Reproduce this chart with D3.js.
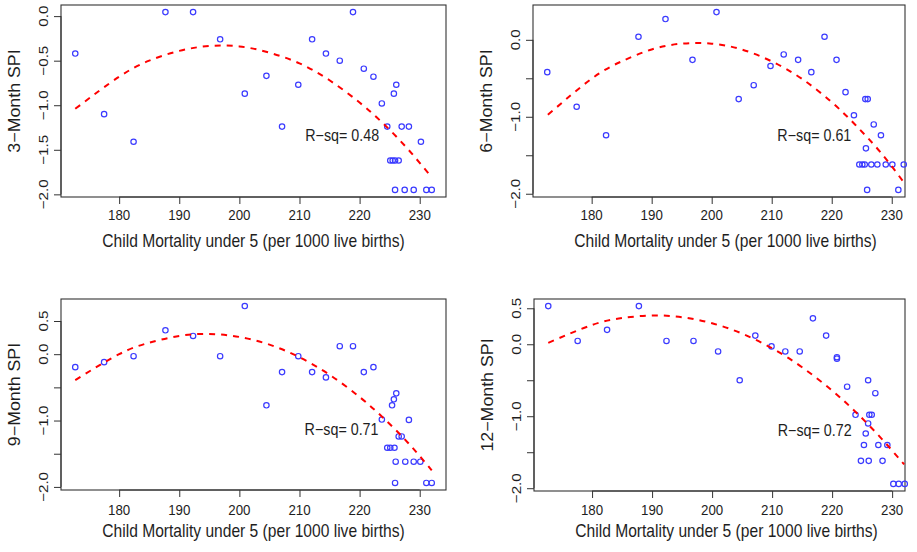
<!DOCTYPE html>
<html>
<head>
<meta charset="utf-8">
<script src="https://cdn.jsdelivr.net/npm/d3@7"></script>
<style>
  html, body { margin: 0; padding: 0; background: #fff; }
  svg { display: block; font-family: "Liberation Sans", Arial, sans-serif; }
</style>
</head>
<body>
<svg id="chart" width="917" height="552"></svg>
<script>
// ---------------- data ----------------
const panelTitles = ["3\u2212Month SPI", "6\u2212Month SPI", "9\u2212Month SPI", "12\u2212Month SPI"];
const rsqLabels = ["R\u2212sq= 0.48", "R\u2212sq= 0.61", "R\u2212sq= 0.71", "R\u2212sq= 0.72"];
const xTickValues = [180, 190, 200, 210, 220, 230];
const xTitle = "Child Mortality under 5 (per 1000 live births)";

const mortality3 = [172.7,177.5,182.4,187.7,192.3,196.8,200.9,204.5,207.1,209.8,212.1,214.4,216.7,218.9,220.7,222.3,223.7,224.6,225.1,225.5,225.9,226.5,225.7,226.1,225.9,227.0,227.5,228.2,229.0,230.2,231.1,232.0];
const spi3 = [-0.42,-1.10,-1.41,0.045,0.045,-0.26,-0.87,-0.67,-1.24,-0.77,-0.26,-0.42,-0.50,0.045,-0.59,-0.68,-0.98,-1.24,-1.62,-1.62,-1.62,-1.62,-0.87,-0.77,-1.95,-1.24,-1.95,-1.24,-1.95,-1.41,-1.95,-1.95];

const mortality6 = [172.6,177.5,182.4,187.8,192.3,196.8,200.8,204.5,207.0,209.8,212.0,214.4,216.6,218.8,220.8,222.3,223.7,224.6,225.1,225.5,225.6,226.0,225.7,225.9,226.6,227.0,227.6,228.2,229.0,230.1,231.1,232.0];
const spi6 = [-0.42,-0.87,-1.24,0.04,0.27,-0.26,0.36,-0.77,-0.59,-0.34,-0.19,-0.26,-0.42,0.04,-0.26,-0.68,-0.98,-1.62,-1.62,-1.62,-0.77,-0.77,-1.41,-1.95,-1.62,-1.10,-1.62,-1.24,-1.62,-1.62,-1.95,-1.62];

const mortality9 = [172.7,177.5,182.4,187.7,192.3,196.8,200.9,204.5,207.1,209.8,212.1,214.4,216.7,218.9,220.7,222.3,223.7,224.6,225.1,225.8,225.4,225.7,226.1,226.5,227.0,228.2,226.0,227.6,229.0,230.1,225.9,231.1,232.0];
const spi9 = [-0.195,-0.12,-0.03,0.36,0.275,-0.03,0.725,-0.77,-0.27,-0.03,-0.27,-0.35,0.12,0.12,-0.27,-0.195,-0.985,-1.41,-1.41,-1.41,-0.77,-0.68,-0.59,-1.24,-1.24,-0.99,-1.62,-1.62,-1.62,-1.62,-1.94,-1.94,-1.94];

const mortality12 = [172.7,177.6,182.5,187.8,192.4,196.9,201.0,204.6,207.2,209.9,212.2,214.6,216.8,219.0,220.8,220.8,222.5,223.9,226.0,227.2,226.2,226.6,226.0,225.6,225.3,227.7,229.2,224.8,226.1,228.4,230.2,231.1,232.1];
const spi12 = [0.53,0.046,0.20,0.53,0.046,0.046,-0.10,-0.50,0.12,-0.03,-0.10,-0.10,0.36,0.12,-0.18,-0.20,-0.59,-0.98,-0.50,-0.68,-0.98,-0.98,-1.10,-1.24,-1.40,-1.40,-1.40,-1.62,-1.62,-1.62,-1.94,-1.94,-1.94];

// quadratic fit curves
const fitX = [172.7,180,185,190,195,200,205,210,215,220,224,228,232];
const fit3 = [-1.04,-0.68,-0.50,-0.39,-0.335,-0.34,-0.41,-0.53,-0.72,-0.97,-1.21,-1.49,-1.81];
const fit6 = [-0.975,-0.505,-0.28,-0.125,-0.05,-0.05,-0.125,-0.28,-0.505,-0.81,-1.11,-1.45,-1.85];
const fit9 = [-0.39,0.0,0.173,0.275,0.305,0.26,0.144,-0.046,-0.31,-0.645,-0.965,-1.33,-1.75];
const fit12 = [0.02,0.268,0.364,0.40,0.376,0.292,0.148,-0.056,-0.32,-0.644,-0.947,-1.29,-1.67];

const yTicks3 = [0, -0.5, -1, -1.5, -2];
const yTickLabels3 = ["0.0", "\u22120.5", "\u22121.0", "\u22121.5", "\u22122.0"];
const yTicks6 = [0, -0.5, -1, -1.5, -2];
const yTickLabels6 = ["0.0", "", "\u22121.0", "", "\u22122.0"];
const yTicks9 = [0.5, 0, -0.5, -1, -1.5, -2];
const yTickLabels9 = ["0.5", "0.0", "", "\u22121.0", "", "\u22122.0"];
const yTicks12 = [0.5, 0, -0.5, -1, -1.5, -2];
const yTickLabels12 = ["0.5", "0.0", "", "\u22121.0", "", "\u22122.0"];

const rsqPosX = [217.1, 217.1, 217.0, 217.1];
const rsqPosY = [-1.35, -1.25, -1.14, -1.20];

// ---------------- layout ----------------
const panels = [
  { xs: mortality3, ys: spi3, fit: fit3, yt: yTicks3, yl: yTickLabels3, x0: 61, x1: 446, clip: 446, y0: 5, y1: 197, tickLabY: 220, titleY: 247 },
  { xs: mortality6, ys: spi6, fit: fit6, yt: yTicks6, yl: yTickLabels6, x0: 533, x1: 918, clip: 905, y0: 5, y1: 197, tickLabY: 220, titleY: 247 },
  { xs: mortality9, ys: spi9, fit: fit9, yt: yTicks9, yl: yTickLabels9, x0: 61, x1: 446, clip: 446, y0: 299, y1: 490, tickLabY: 515, titleY: 537 },
  { xs: mortality12, ys: spi12, fit: fit12, yt: yTicks12, yl: yTickLabels12, x0: 534, x1: 919, clip: 905, y0: 299, y1: 491, tickLabY: 515, titleY: 537 }
];

const svg = d3.select("#chart");
svg.append("rect").attr("width", 917).attr("height", 552).attr("fill", "#fff");

const TICK_FONT = 13.3;
const TITLE_FONT = 15.6;
const RSQ_FONT = 14.3;
const STRETCH = 1.14;          // the reference image is slightly stretched vertically
const axisColor = "#333";
const textColor = "#1e1e1e";

function ext(v) {
  const [a, b] = d3.extent(v);
  const e = (b - a) * 0.04;
  return [a - e, b + e];
}

panels.forEach((p, i) => {
  const g = svg.append("g");
  const x = d3.scaleLinear().domain(ext(p.xs)).range([p.x0, p.x1]);
  const y = d3.scaleLinear().domain(ext(p.ys)).range([p.y1, p.y0]);

  // x axis ticks
  const xAxis = d3.axisBottom(x).tickValues(xTickValues).tickSize(7).tickSizeOuter(0).tickFormat("");
  const gx = g.append("g").attr("transform", `translate(0,${p.y1})`).call(xAxis);
  gx.select(".domain").attr("d", `M${x(xTickValues[0])},0H${x(xTickValues[xTickValues.length - 1])}`).attr("stroke", axisColor);
  gx.selectAll(".tick line").attr("stroke", axisColor);
  g.selectAll(".xtl").data(xTickValues).enter().append("text")
    .attr("transform", d => `translate(${x(d)},${p.tickLabY}) scale(1,${STRETCH})`)
    .attr("text-anchor", "middle").attr("font-size", TICK_FONT).attr("fill", textColor)
    .text(d => d);

  // y axis ticks
  const yAxis = d3.axisLeft(y).tickValues(p.yt).tickSize(7).tickSizeOuter(0).tickFormat("");
  const gy = g.append("g").attr("transform", `translate(${p.x0},0)`).call(yAxis);
  gy.select(".domain").attr("d", `M0,${y(d3.min(p.yt))}V${y(d3.max(p.yt))}`).attr("stroke", axisColor);
  gy.selectAll(".tick line").attr("stroke", axisColor);
  g.selectAll(".ytl").data(p.yt).enter().append("text")
    .attr("transform", d => `translate(${p.x0 - 13},${y(d)}) scale(1,${STRETCH}) rotate(-90)`)
    .attr("text-anchor", "middle").attr("font-size", TICK_FONT).attr("fill", textColor)
    .text((d, k) => p.yl[k]);

  // box
  g.append("rect").attr("x", p.x0).attr("y", p.y0)
    .attr("width", p.clip - p.x0).attr("height", p.y1 - p.y0)
    .attr("fill", "none").attr("stroke", axisColor).attr("stroke-width", 1.1);

  // titles
  g.append("text")
    .attr("transform", `translate(${(p.x0 + p.x1) / 2},${p.titleY}) scale(1,${STRETCH})`)
    .attr("text-anchor", "middle").attr("font-size", TITLE_FONT).attr("fill", textColor).text(xTitle);
  g.append("text")
    .attr("transform", `translate(${p.x0 - 41},${(p.y0 + p.y1) / 2}) scale(1,${STRETCH}) rotate(-90)`)
    .attr("text-anchor", "middle").attr("font-size", TITLE_FONT).attr("fill", textColor).text(panelTitles[i]);

  // points
  g.selectAll(".pt").data(p.xs.map((d, k) => [d, p.ys[k]])).enter().append("circle")
    .attr("cx", d => x(d[0])).attr("cy", d => y(d[1])).attr("r", 2.7)
    .attr("fill", "none").attr("stroke", "#3a3aff").attr("stroke-width", 1.2);

  // fitted curve
  const line = d3.line().x(d => x(d[0])).y(d => y(d[1])).curve(d3.curveNatural);
  g.append("path").datum(fitX.map((d, k) => [d, p.fit[k]]))
    .attr("d", line).attr("fill", "none").attr("stroke", "#ff0000")
    .attr("stroke-width", 2).attr("stroke-dasharray", "6,6");

  // R-squared label
  g.append("text")
    .attr("transform", `translate(${x(rsqPosX[i])},${y(rsqPosY[i]) + 5}) scale(1,${STRETCH})`)
    .attr("text-anchor", "middle")
    .attr("font-size", RSQ_FONT).attr("fill", textColor).text(rsqLabels[i]);
});
</script>
</body>
</html>
